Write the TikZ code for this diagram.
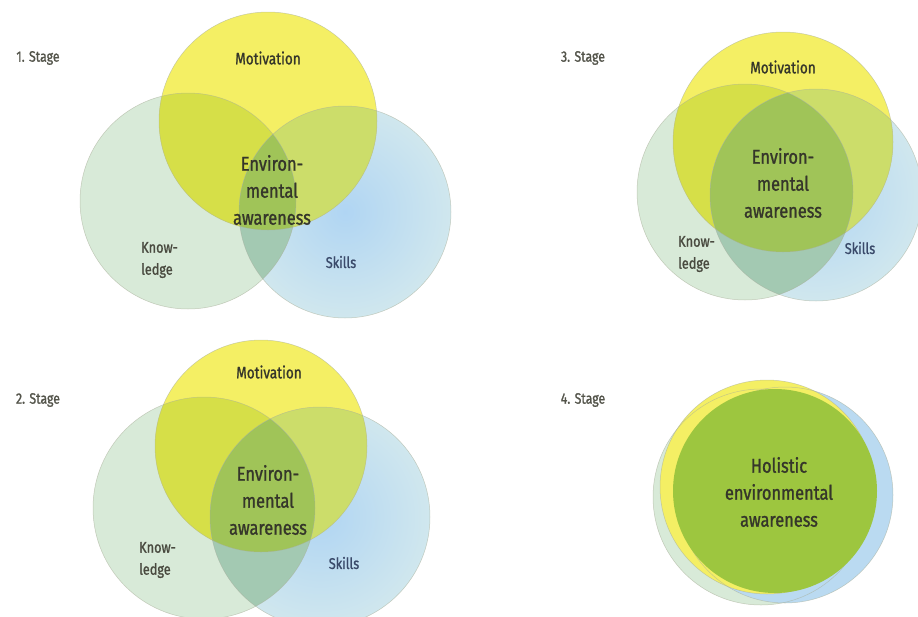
\documentclass[tikz,border=0pt]{standalone}
\usepackage{fontspec}
\setmainfont{Fira Sans}[FakeStretch=0.82,FakeBold=1.2]
\definecolor{mcol}{HTML}{F4EF64}
\definecolor{kcol}{HTML}{D8EAD8}
\definecolor{skin}{HTML}{B0D5F3}
\definecolor{skout}{HTML}{D0E7EE}
\definecolor{mkcol}{HTML}{D6DF48}
\definecolor{mscol}{HTML}{CCDD6A}
\definecolor{kscol}{HTML}{A3C9B2}
\definecolor{allcol}{HTML}{A0C458}
\definecolor{holcol}{HTML}{9DC63F}
\definecolor{txt}{HTML}{35362A}
\definecolor{sktxt}{HTML}{3A4A6A}
\definecolor{edge}{HTML}{A9B09A}
\tikzset{
  rim/.style={draw=edge,line width=0.5pt,draw opacity=0.6},
  stagelbl/.style={font=\fontsize{15}{18}\selectfont,text=txt!85,inner sep=0pt},
  motlbl/.style={font=\fontsize{16.5}{20}\selectfont,text=txt,inner sep=0pt},
  envlbl/.style={font=\fontsize{20}{27}\selectfont,text=txt,align=center,inner sep=0pt},
  knowlbl/.style={font=\fontsize{15.5}{22}\selectfont,text=txt!90,align=left,inner sep=0pt},
  skilllbl/.style={font=\fontsize{15.5}{18}\selectfont,text=sktxt,inner sep=0pt}
}
\newcommand\vennstage[9]{%
  \fill[kcol] (#4,#5) circle (#6);
  \shade[inner color=skin,outer color=skout] (#7,#8) circle (#9);
  \fill[mcol] (#1,#2) circle (#3);
  \begin{scope}\clip (#1,#2) circle (#3); \fill[mkcol] (#4,#5) circle (#6);\end{scope}
  \begin{scope}\clip (#1,#2) circle (#3); \fill[mscol] (#7,#8) circle (#9);\end{scope}
  \begin{scope}\clip (#4,#5) circle (#6); \fill[kscol] (#7,#8) circle (#9);\end{scope}
  \begin{scope}\clip (#1,#2) circle (#3); \clip (#4,#5) circle (#6); \fill[allcol] (#7,#8) circle (#9);\end{scope}
  \draw[rim] (#4,#5) circle (#6);
  \draw[rim] (#7,#8) circle (#9);
  \draw[rim] (#1,#2) circle (#3);
}
\begin{document}
\begin{tikzpicture}[x=1pt,y=-1pt]
\useasboundingbox (0,0) rectangle (918,616);
\fill[white] (0,0) rectangle (918,616);
% Stage 1
\vennstage{268}{121}{109}{188}{201}{108}{345}{212}{106}
\node[stagelbl] (s1) at (38,58) {1. Stage};
\node[motlbl] (m1) at (268,58) {Motivation};
\node[envlbl] (e1) at (272,190) {Environ-\\mental\\awareness};
\node[knowlbl,anchor=west] (k1) at (141,260) {Know-\\ledge};
\node[skilllbl] (sk1) at (341,262) {Skills};
% Stage 2
\vennstage{261}{446}{106}{204}{508}{111}{320}{517}{110}
\node[stagelbl] (s2) at (38,400) {2. Stage};
\node[motlbl] (m2) at (269,372) {Motivation};
\node[envlbl] (e2) at (268,500) {Environ-\\mental\\awareness};
\node[knowlbl,anchor=west] (k2) at (139,560) {Know-\\ledge};
\node[skilllbl] (sk2) at (344,563) {Skills};
% Stage 3
\vennstage{783}{142}{110}{745}{192}{108}{816}{195}{106}
\node[stagelbl] (s3) at (583,58) {3. Stage};
\node[motlbl] (m3) at (783,67) {Motivation};
\node[envlbl] (e3) at (783,183) {Environ-\\mental\\awareness};
\node[knowlbl,anchor=west] (k3) at (678,254) {Know-\\ledge};
\node[skilllbl] (sk3) at (860,248) {Skills};
% Stage 4
\fill[kcol] (761,497) circle (108);
\fill[skin!70!skout] (785,495) circle (108);
\fill[mcol] (767,487) circle (107);
\draw[rim] (761,497) circle (108);
\draw[rim] (785,495) circle (108);
\draw[rim] (767,487) circle (107);
\fill[holcol] (775,491) circle (102);
\node[stagelbl] (s4) at (583,400) {4. Stage};
\node[envlbl] (h4) at (779,492) {Holistic\\environmental\\awareness};
\end{tikzpicture}
\end{document}
